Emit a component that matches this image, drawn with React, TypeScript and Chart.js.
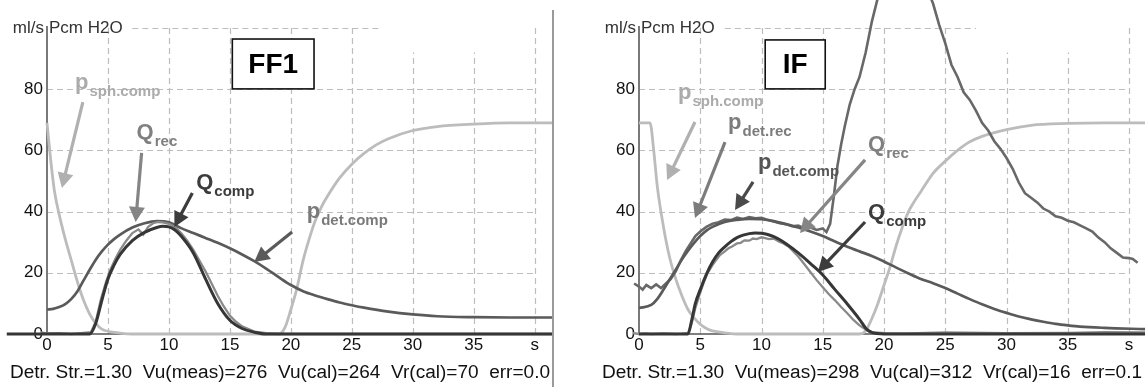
import React, { useEffect, useRef } from "react";
import { Chart, registerables } from "chart.js";
Chart.register(...registerables);

const FONT = "'Liberation Sans', Arial, sans-serif";

// ---- axes ----
const X_TICKS = [0, 5, 10, 15, 20, 25, 30, 35, 40];
const X_TICK_LABELS = ["0", "5", "10", "15", "20", "25", "30", "35", "s"];
const Y_TICKS = [0, 20, 40, 60, 80];
const Y_MAX = 100;
const UNIT_LEFT = "ml/s";
const UNIT_RIGHT = "Pcm H2O";
const GRID_X = [5, 10, 15, 20, 25, 30, 35, 40];
const GRID_X_TOP = [100, 100, 100, 100, 100, 92, 92, 100];
const GRID_Y = [20, 40, 60, 80];

// ---- FF1 panel ----
const FF1_TITLE = "FF1";
const FF1_FOOTER = "Detr. Str.=1.30  Vu(meas)=276  Vu(cal)=264  Vr(cal)=70  err=0.0";
const FF1_PSPH_T = [0, 0.3, 0.6, 1, 1.5, 2, 2.5, 3, 3.5, 4, 4.5, 5, 6, 7, 10, 15, 19, 19.5, 20, 20.5, 21, 21.5, 22, 22.5, 23, 24, 25, 26, 27, 28, 30, 32, 35, 38, 41.5];
const FF1_PSPH_V = [69, 57, 47, 39, 31, 24, 17, 11, 6.5, 3.5, 1.6, 0.9, 0.3, 0, 0, 0, 0, 2, 8, 15, 24, 31, 37, 41.5, 45, 51, 55.5, 59, 61.8, 63.8, 66.5, 67.8, 68.6, 69, 69];
const FF1_QCOMP_T = [-3.3, 0, 3.5, 4, 4.5, 5, 5.5, 6, 7, 8, 9, 9.5, 10, 10.5, 11, 12, 13, 14, 15, 16, 17, 18, 41.5];
const FF1_QCOMP_V = [0, 0, 0, 3.5, 11, 18, 22.5, 26, 30.5, 33.2, 34.8, 35.2, 35, 34, 32, 26.5, 18, 10, 4.5, 1.8, 0.6, 0, 0];
const FF1_QREC_T = [-3.5, -3, -2.5, -2, -1.5, -1, -0.5, 0, 1, 2, 3, 3.6, 4, 4.4, 4.8, 5.2, 5.6, 6, 6.5, 7, 7.5, 7.9, 8.3, 8.7, 9.1, 9.5, 10, 10.5, 11, 11.5, 12, 12.5, 13, 13.5, 14, 14.5, 15, 15.5, 16, 17, 18, 19, 20, 41.5];
const FF1_QREC_V = [0.3, -0.5, 0.6, -0.3, 0.7, -0.4, 0.5, 0.2, 0.3, 0, 0.4, 0.6, 4, 11, 16.5, 21, 24.5, 27.5, 30.5, 33, 34.2, 32.5, 35, 36.2, 36.6, 36.5, 36, 35, 33, 30.5, 27.5, 24, 20.5, 16.5, 12.5, 9, 6, 4, 2.5, 0.8, 0.3, 0, 0, 0];
const FF1_PDET_T = [0, 0.5, 1, 1.5, 2, 2.5, 3, 3.5, 4, 4.5, 5, 5.5, 6, 7, 8, 9, 10, 11, 12, 13, 14, 15, 16, 17, 18, 19, 20, 21, 22, 23, 24, 25, 26, 28, 30, 32, 35, 38, 41.5];
const FF1_PDET_V = [8, 8.2, 8.8, 9.8, 11.5, 14, 17.5, 21, 24.3, 27, 29.2, 31, 32.5, 34.8, 36.2, 36.9, 36.5, 34.6, 33, 31.4, 29.8, 28, 26, 23.8, 21.3, 18.6, 16, 14, 12.6, 11.4, 10.3, 9.4, 8.6, 7.3, 6.4, 5.8, 5.5, 5.4, 5.4];

// ---- IF panel ----
const IF_TITLE = "IF";
const IF_FOOTER = "Detr. Str.=1.30  Vu(meas)=298  Vu(cal)=312  Vr(cal)=16  err=0.1";
const IF_PSPH_T = [0, 0.9, 1.2, 1.5, 2, 2.5, 3, 3.5, 4, 4.5, 5, 5.5, 6, 7, 8, 12, 18, 18.5, 19, 19.5, 20, 20.5, 21, 21.5, 22, 22.5, 23, 24, 25, 26, 27, 28, 30, 32, 35, 38, 41.3];
const IF_PSPH_V = [69, 69, 60, 48, 35, 25, 18, 12.5, 8, 5.3, 3.2, 1.8, 1, 0.4, 0, 0, 0, 1, 5, 10, 16, 22, 29, 35, 40, 43.5, 46.5, 52.5, 56.5, 60, 62.8, 64.6, 66.8, 68.2, 68.8, 69, 69];
const IF_QCOMP_T = [0, 4, 4.3, 4.6, 5, 5.5, 6, 6.5, 7, 7.5, 8, 8.5, 9, 9.5, 10, 10.5, 11, 11.5, 12, 13, 14, 15, 16, 17, 18, 18.6, 19, 20, 41.3];
const IF_QCOMP_V = [0, 0, 4.5, 10, 14.5, 19.5, 23.5, 26.5, 28.5, 30.2, 31.5, 32.3, 32.8, 33, 32.9, 32.5, 31.8, 30.8, 29.5, 26.5, 23, 19.3, 14.5, 9.8, 4.8, 1.5, 0.5, 0, 0];
const IF_QREC_T = [-3.5, -3, -2.5, -2, -1.5, -1, -0.5, 0, 0.5, 1, 2, 3, 3.5, 4, 4.3, 4.6, 5, 5.3, 5.6, 6, 6.3, 6.6, 7, 7.3, 7.6, 8, 8.3, 8.6, 9, 9.3, 9.6, 10, 10.3, 10.6, 11, 11.4, 11.8, 12.2, 12.6, 13, 13.5, 14, 14.5, 15, 15.5, 16, 16.5, 17, 17.5, 18, 18.5, 19, 20, 22, 25, 30, 35, 38, 41.3];
const IF_QREC_V = [0.2, -0.5, 0.6, -0.4, 0.5, -0.6, 0.3, 0, 0.2, 0, 0.2, 0, 0.1, 0.3, 3.5, 8.5, 13.5, 17, 20, 22.5, 24.2, 25.8, 27, 28, 28.6, 29.6, 29.8, 30.6, 30.5, 31.2, 31, 31.6, 31.3, 31, 31.2, 30.2, 29.6, 28.6, 27, 25.3, 22.8, 20.2, 17.6, 15.3, 13, 11, 8.8, 6.8, 4.6, 2.8, 1.5, 0.6, 0.3, 0.2, 0.5, 0.3, 0.4, 0.6, 0.5];
const IF_PDETC_T = [0, 1, 1.5, 2, 2.5, 3, 3.5, 4, 4.5, 5, 5.5, 6, 7, 8, 9, 10, 11, 12, 13, 14, 15, 16, 17, 18, 19, 20, 21, 22, 23, 24, 25, 26, 27, 28, 29, 30, 31, 32, 33, 34, 35, 36, 38, 41.3];
const IF_PDETC_V = [8.5, 9.5, 11.5, 14.5, 17.8, 21, 24.3, 27.2, 29.8, 32, 33.8, 35, 36.6, 37.3, 37.6, 37.5, 36.9, 35.9, 34.8, 33.5, 32, 30.2, 28.5, 27, 25.5, 23.7, 21.7, 19.8, 18, 16.6, 15, 13.2, 11.4, 9.7, 8.2, 6.9, 5.7, 4.8, 4, 3.3, 2.8, 2.4, 2, 1.6];
const IF_PDETR_T = [-3.5, -3.2, -3, -2.8, -2.5, -2.2, -2, -1.8, -1.5, -1.2, -1, -0.7, -0.4, 0, 0.3, 0.6, 1, 1.4, 1.8, 2.2, 2.6, 3, 3.4, 3.8, 4.2, 4.6, 5, 5.5, 6, 6.5, 7, 7.5, 8, 8.5, 9, 9.5, 10, 10.5, 11, 11.5, 12, 12.5, 13, 13.5, 14, 14.5, 15, 15.3, 15.6, 15.9, 16.2, 16.5, 16.8, 17.2, 17.6, 18, 18.5, 19, 19.5, 20, 21, 22, 23, 24, 24.5, 25, 25.5, 26, 26.5, 27, 27.5, 28, 28.5, 29, 29.5, 30, 30.5, 31, 31.5, 32, 32.5, 33, 33.5, 34, 34.5, 35, 35.5, 36, 36.5, 37, 37.5, 38, 38.5, 39, 39.5, 40, 40.3, 40.7];
const IF_PDETR_V = [24, 22, 25, 21, 20.5, 17.5, 19.5, 16, 17.5, 14.5, 16, 14, 16.5, 15.5, 14.5, 16, 15, 16.2, 15, 16.5, 18, 20.5, 24, 27, 29.5, 32, 33.5, 35, 36, 36.5, 37.4, 37.2, 38, 37.6, 38.2, 37.8, 38, 37.3, 36.8, 36.2, 35.9, 35.2, 35.4, 34.6, 34.8, 34, 34.5, 33.3, 36, 45, 55, 62, 68, 75, 80, 84, 92, 102, 110, 116, 121, 122, 118, 108, 101, 95, 88, 84, 79, 76.5, 73, 69, 66.5, 63, 60.5, 57.5, 54, 49.5, 46, 44.5, 43, 41, 40, 38.5, 38, 37, 36.5, 35.5, 34.5, 33.5, 31.5, 30, 28, 26.5, 25, 24.8, 24.5, 23.3];

// ---- styles ----
const C_SPH = "#bcbcbc";
const C_QREC = "#8a8a8a";
const C_QCOMP = "#363636";
const C_PDETC = "#5a5a5a";
const C_PDETR = "#686868";

function mk(t: number[], v: number[]) {
  return t.map((x, i) => ({ x, y: v[i] }));
}

const FF1_SERIES = [
  { name: "Q_comp", data: mk(FF1_QCOMP_T, FF1_QCOMP_V), color: C_QCOMP, width: 3, smooth: true, order: 0 },
  { name: "Q_rec", data: mk(FF1_QREC_T, FF1_QREC_V), color: C_QREC, width: 2.3, smooth: false, order: 1 },
  { name: "p_det.comp", data: mk(FF1_PDET_T, FF1_PDET_V), color: C_PDETC, width: 2.7, smooth: true, order: 2 },
  { name: "p_sph.comp", data: mk(FF1_PSPH_T, FF1_PSPH_V), color: C_SPH, width: 2.8, smooth: true, order: 3 },
];

const IF_SERIES = [
  { name: "Q_comp", data: mk(IF_QCOMP_T, IF_QCOMP_V), color: C_QCOMP, width: 3, smooth: true, order: 0 },
  { name: "Q_rec", data: mk(IF_QREC_T, IF_QREC_V), color: C_QREC, width: 2.3, smooth: false, order: 1 },
  { name: "p_det.comp", data: mk(IF_PDETC_T, IF_PDETC_V), color: C_PDETC, width: 2.7, smooth: true, order: 2 },
  { name: "p_det.rec", data: mk(IF_PDETR_T, IF_PDETR_V), color: C_PDETR, width: 2.6, smooth: false, order: 3 },
  { name: "p_sph.comp", data: mk(IF_PSPH_T, IF_PSPH_V), color: C_SPH, width: 2.8, smooth: true, order: 4 },
];

// annotations in data coordinates
const FF1_ANN = [
  { kind: "box", x1: 15.2, y1: 96.4, x2: 21.9, y2: 80.1, text: FF1_TITLE },
  { kind: "label", x: 2.3, y: 80, main: "p", sub: "sph.comp", color: "#ababab" },
  { kind: "arrow", x1: 2.94, y1: 75.8, x2: 1.22, y2: 47.7, color: "#b0b0b0" },
  { kind: "label", x: 7.35, y: 63.7, main: "Q", sub: "rec", color: "#808080" },
  { kind: "arrow", x1: 7.76, y1: 59.2, x2: 7.27, y2: 36.6, color: "#858585" },
  { kind: "label", x: 12.24, y: 47.4, main: "Q", sub: "comp", color: "#3c3c3c" },
  { kind: "arrow", x1: 11.92, y1: 46.1, x2: 10.45, y2: 35, color: "#3c3c3c" },
  { kind: "label", x: 21.3, y: 37.9, main: "p", sub: "det.comp", color: "#7a7a7a" },
  { kind: "arrow", x1: 20.1, y1: 33.3, x2: 17.0, y2: 23.5, color: "#5a5a5a" },
];

const IF_ANN = [
  { kind: "box", x1: 10.3, y1: 96.1, x2: 15.2, y2: 80.1, text: IF_TITLE },
  { kind: "label", x: 3.18, y: 76.8, main: "p", sub: "sph.comp", color: "#ababab" },
  { kind: "arrow", x1: 4.57, y1: 69.3, x2: 2.29, y2: 50.3, color: "#b0b0b0" },
  { kind: "label", x: 7.27, y: 67, main: "p", sub: "det.rec", color: "#7c7c7c" },
  { kind: "arrow", x1: 7.02, y1: 62.7, x2: 4.57, y2: 37.9, color: "#7c7c7c" },
  { kind: "label", x: 9.71, y: 53.9, main: "p", sub: "det.comp", color: "#555555" },
  { kind: "arrow", x1: 9.31, y1: 49.7, x2: 7.84, y2: 40.5, color: "#4a4a4a" },
  { kind: "label", x: 18.7, y: 59.8, main: "Q", sub: "rec", color: "#808080" },
  { kind: "arrow", x1: 18.45, y1: 56.9, x2: 13.14, y2: 33, color: "#858585" },
  { kind: "label", x: 18.7, y: 37.6, main: "Q", sub: "comp", color: "#3c3c3c" },
  { kind: "arrow", x1: 18.45, y1: 36.6, x2: 14.6, y2: 20.3, color: "#3c3c3c" },
];

const PANELS = [
  { left: 0, width: 565, yAxisWidth: 47, padRight: 12, xMax: 41.5, series: FF1_SERIES, ann: FF1_ANN, footer: FF1_FOOTER, border: true },
  { left: 565, width: 580, yAxisWidth: 74, padRight: 0, xMax: 41.3, series: IF_SERIES, ann: IF_ANN, footer: IF_FOOTER, border: false },
];

function drawArrow(ctx: CanvasRenderingContext2D, x1: number, y1: number, x2: number, y2: number, color: string) {
  const a = Math.atan2(y2 - y1, x2 - x1);
  const L = 15, W = 8;
  const c = Math.cos(a), s = Math.sin(a);
  const bx = x2 - L * c, by = y2 - L * s;
  ctx.strokeStyle = color;
  ctx.lineWidth = 3.2;
  ctx.setLineDash([]);
  ctx.beginPath();
  ctx.moveTo(x1, y1);
  ctx.lineTo(bx + c, by + s);
  ctx.stroke();
  ctx.fillStyle = color;
  ctx.beginPath();
  ctx.moveTo(x2, y2);
  ctx.lineTo(bx + W * s, by - W * c);
  ctx.lineTo(bx - W * s, by + W * c);
  ctx.closePath();
  ctx.fill();
}

function Panel({ cfg }: { cfg: any }) {
  const ref = useRef<HTMLCanvasElement>(null);
  useEffect(() => {
    const canvas = ref.current!;
    const plugin = {
      id: "decor",
      beforeDatasetsDraw(chart: any) {
        const ctx = chart.ctx as CanvasRenderingContext2D;
        const xs = chart.scales.x, ys = chart.scales.y;
        ctx.save();
        ctx.strokeStyle = "#bdbdbd";
        ctx.lineWidth = 1.2;
        ctx.setLineDash([6, 4]);
        GRID_Y.forEach((v) => {
          const y = Math.round(ys.getPixelForValue(v)) + 0.5;
          ctx.beginPath();
          ctx.moveTo(xs.getPixelForValue(0), y);
          ctx.lineTo(xs.getPixelForValue(40), y);
          ctx.stroke();
        });
        {
          const y = Math.round(ys.getPixelForValue(Y_MAX)) + 0.5;
          ctx.beginPath();
          ctx.moveTo(xs.getPixelForValue(7), y);
          ctx.lineTo(xs.getPixelForValue(27.5), y);
          ctx.stroke();
        }
        GRID_X.forEach((v, i) => {
          const x = Math.round(xs.getPixelForValue(v)) + 0.5;
          ctx.beginPath();
          ctx.moveTo(x, ys.getPixelForValue(0));
          ctx.lineTo(x, ys.getPixelForValue(GRID_X_TOP[i]));
          ctx.stroke();
        });
        ctx.setLineDash([]);
        ctx.strokeStyle = "#7a7a7a";
        ctx.lineWidth = 2;
        const ax = xs.getPixelForValue(0);
        ctx.beginPath();
        ctx.moveTo(ax, ys.getPixelForValue(0));
        ctx.lineTo(ax, ys.getPixelForValue(Y_MAX) - 2);
        ctx.stroke();
        ctx.strokeStyle = "#555";
        ctx.lineWidth = 1.5;
        ctx.beginPath();
        ctx.moveTo(ax, ys.getPixelForValue(0));
        ctx.lineTo(xs.right, ys.getPixelForValue(0));
        ctx.stroke();
        ctx.fillStyle = "#333";
        ctx.font = `17px ${FONT}`;
        ctx.textBaseline = "middle";
        ctx.textAlign = "right";
        const uy = ys.getPixelForValue(Y_MAX);
        ctx.fillText(UNIT_LEFT, ax - 3, uy);
        ctx.textAlign = "left";
        ctx.fillText(UNIT_RIGHT, ax + 2, uy);
        ctx.restore();
      },
      afterDatasetsDraw(chart: any) {
        const ctx = chart.ctx as CanvasRenderingContext2D;
        const xs = chart.scales.x, ys = chart.scales.y;
        const px = (v: number) => xs.getPixelForValue(v);
        const py = (v: number) => ys.getPixelForValue(v);
        ctx.save();
        cfg.ann.forEach((a: any) => {
          if (a.kind === "box") {
            const x1 = px(a.x1), y1 = py(a.y1), x2 = px(a.x2), y2 = py(a.y2);
            ctx.fillStyle = "#fff";
            ctx.fillRect(x1, y1, x2 - x1, y2 - y1);
            ctx.strokeStyle = "#111";
            ctx.lineWidth = 1.6;
            ctx.strokeRect(x1, y1, x2 - x1, y2 - y1);
            ctx.fillStyle = "#000";
            ctx.font = `bold 28px ${FONT}`;
            ctx.textAlign = "center";
            ctx.textBaseline = "middle";
            ctx.fillText(a.text, (x1 + x2) / 2, (y1 + y2) / 2 + 1);
          } else if (a.kind === "label") {
            const x = px(a.x), y = py(a.y);
            ctx.fillStyle = a.color;
            ctx.textAlign = "left";
            ctx.textBaseline = "alphabetic";
            ctx.font = `bold 22px ${FONT}`;
            ctx.fillText(a.main, x, y);
            const w = ctx.measureText(a.main).width;
            ctx.font = `bold 15px ${FONT}`;
            ctx.fillText(a.sub, x + w + 1, y + 7);
          } else if (a.kind === "arrow") {
            drawArrow(ctx, px(a.x1), py(a.y1), px(a.x2), py(a.y2), a.color);
          }
        });
        ctx.restore();
      },
      afterDraw(chart: any) {
        const ctx = chart.ctx as CanvasRenderingContext2D;
        const area = chart.chartArea;
        ctx.save();
        ctx.fillStyle = "#111";
        ctx.font = `18px ${FONT}`;
        ctx.textAlign = "left";
        ctx.textBaseline = "alphabetic";
        const w = ctx.measureText(cfg.footer).width;
        const target = 540;
        ctx.translate(area.left - 37, 378);
        ctx.scale(target / w, 1);
        ctx.fillText(cfg.footer, 0, 0);
        ctx.restore();
        if (cfg.border) {
          ctx.save();
          ctx.strokeStyle = "#9a9a9a";
          ctx.lineWidth = 2;
          ctx.beginPath();
          ctx.moveTo(area.right, 10);
          ctx.lineTo(area.right, 387);
          ctx.stroke();
          ctx.restore();
        }
      },
    };
    const chart = new Chart(canvas, {
      type: "line",
      data: {
        datasets: cfg.series.map((s: any) => ({
          label: s.name,
          data: s.data,
          borderColor: s.color,
          borderWidth: s.width,
          pointRadius: 0,
          fill: false,
          tension: s.smooth ? 0.4 : 0,
          cubicInterpolationMode: s.smooth ? "monotone" : "default",
          clip: false,
          order: s.order,
        })),
      },
      options: {
        responsive: false,
        animation: false,
        events: [],
        layout: { padding: { top: 28, right: cfg.padRight, left: 0, bottom: 0 } },
        plugins: { legend: { display: false }, tooltip: { enabled: false }, title: { display: false } },
        scales: {
          x: {
            type: "linear",
            min: 0,
            max: cfg.xMax,
            grid: { display: false, drawTicks: false },
            border: { display: false },
            afterBuildTicks: (s: any) => {
              s.ticks = X_TICKS.map((v) => ({ value: v }));
            },
            afterFit: (s: any) => {
              s.height = 53;
            },
            ticks: {
              autoSkip: false,
              maxRotation: 0,
              padding: 1,
              color: "#111",
              font: { family: FONT, size: 17 },
              callback: (v: any) => {
                const i = X_TICKS.indexOf(Number(v));
                return i >= 0 ? X_TICK_LABELS[i] : "";
              },
            },
          },
          y: {
            type: "linear",
            min: 0,
            max: Y_MAX,
            grid: { display: false, drawTicks: false },
            border: { display: false },
            afterBuildTicks: (s: any) => {
              s.ticks = Y_TICKS.map((v) => ({ value: v }));
            },
            afterFit: (s: any) => {
              s.width = cfg.yAxisWidth;
            },
            ticks: {
              padding: 4,
              color: "#111",
              font: { family: FONT, size: 17 },
            },
          },
        },
      },
      plugins: [plugin],
    } as any);
    return () => chart.destroy();
  }, []);
  return (
    <canvas
      ref={ref}
      width={cfg.width}
      height={387}
      style={{ position: "absolute", left: cfg.left, top: 0, width: cfg.width, height: 387 }}
    />
  );
}

export default function App() {
  return (
    <div style={{ position: "absolute", left: 0, top: 0, width: 1145, height: 387, background: "#fff", overflow: "hidden" }}>
      {PANELS.map((p, i) => (
        <Panel key={i} cfg={p} />
      ))}
    </div>
  );
}
